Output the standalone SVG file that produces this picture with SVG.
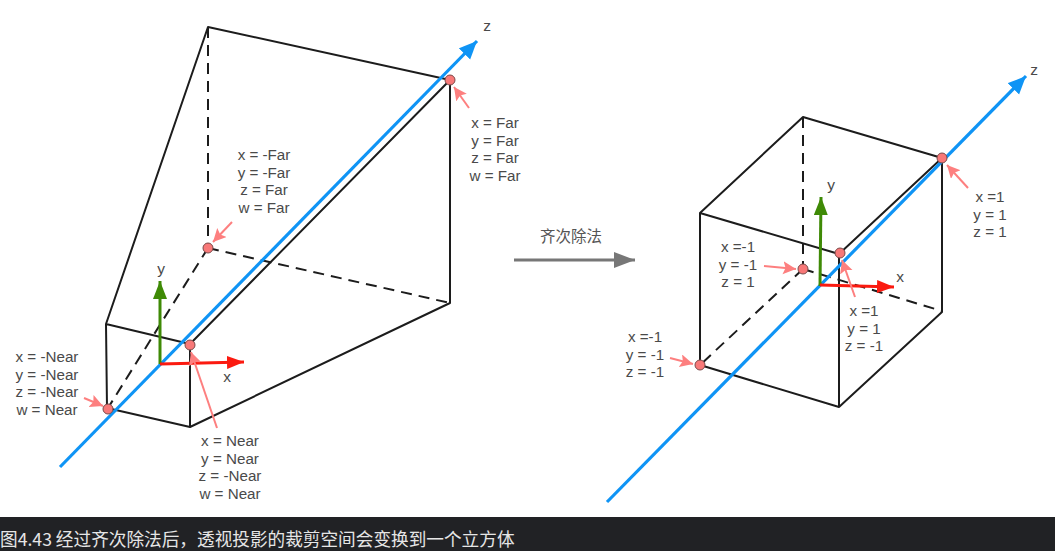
<svg xmlns="http://www.w3.org/2000/svg" width="1055" height="551" viewBox="0 0 1055 551">
<style>
.e{fill:none;stroke:#1c1c1c;stroke-width:2;stroke-linecap:round;stroke-linejoin:round}
.d{fill:none;stroke:#1c1c1c;stroke-width:2;stroke-dasharray:11 7}
.z{fill:none;stroke:#0f94f5;stroke-width:3.2}
.g{fill:none;stroke:#3f8a06;stroke-width:3}
.r{fill:none;stroke:#fb1a10;stroke-width:3}
.p{fill:none;stroke:#fd7f7f;stroke-width:2}
.n{fill:#f87878;stroke:#7a4a4a;stroke-width:1}
text{font-family:"Liberation Sans",Arial,sans-serif;font-size:15.2px;fill:#4a4a4a;text-anchor:middle}
.t{font-size:15.5px}
.c{font-family:"Noto Sans CJK SC","Liberation Sans",sans-serif;font-size:17.65px;fill:#e6e6e6;text-anchor:start}
.l{font-family:"Noto Sans CJK SC","Liberation Sans",sans-serif;font-size:15.5px;fill:#555}
</style>
<defs>
<marker id="az" markerUnits="userSpaceOnUse" markerWidth="22" markerHeight="18" refX="18" refY="8" orient="auto"><path d="M0 0L18 8L0 16z" fill="#0f94f5"/></marker>
<marker id="ag" markerUnits="userSpaceOnUse" markerWidth="22" markerHeight="18" refX="18" refY="7" orient="auto"><path d="M0 0L18 7L0 14z" fill="#3f8a06"/></marker>
<marker id="ar" markerUnits="userSpaceOnUse" markerWidth="22" markerHeight="18" refX="17" refY="6.5" orient="auto"><path d="M0 0L17 6.5L0 13z" fill="#fb1a10"/></marker>
<marker id="ap" markerUnits="userSpaceOnUse" markerWidth="16" markerHeight="16" refX="13" refY="6.5" orient="auto"><path d="M0 0L13 6.5L0 13L2.5 6.5z" fill="#fd7f7f"/></marker>
<marker id="ak" markerUnits="userSpaceOnUse" markerWidth="24" markerHeight="18" refX="21" refY="8" orient="auto"><path d="M0 0L21 8L0 16z" fill="#777"/></marker>
</defs>
<rect width="1055" height="551" fill="#fff"/>
<g id="connectors">
<path class="d" d="M208 27V248M208 248L108 408M208 248L450 303"/>
<path class="e" d="M106 324L208 27L450 80V303L190 427L107 408L106 324L190 344V427M190 344L450 80"/>
<path class="z" d="M60 467L477 41" marker-end="url(#az)"/>
<path class="g" d="M160 364V281" marker-end="url(#ag)"/>
<path class="r" d="M160 364L244 362" marker-end="url(#ar)"/>
<path class="p" d="M217 428L191 352" marker-end="url(#ap)"/>
<path class="p" d="M84 398L103 406" marker-end="url(#ap)"/>
<path class="p" d="M232 222L213 242" marker-end="url(#ap)"/>
<path class="p" d="M469 108L454 87" marker-end="url(#ap)"/>
<path class="d" d="M803 117V269M803 269L700 365M803 269L942 311"/>
<path class="e" d="M700 213L803 117L942 158V312L839 407L700 365V213L839 254V407M839 254L942 158"/>
<path class="z" d="M607 502L1026 76" marker-end="url(#az)"/>
<path class="g" d="M820 286L821 197" marker-end="url(#ag)"/>
<path class="r" d="M820 285L894 287" marker-end="url(#ar)"/>
<path class="p" d="M855 297L842 260" marker-end="url(#ap)"/>
<path class="p" d="M764 266L796 269" marker-end="url(#ap)"/>
<path class="p" d="M670 358L693 364" marker-end="url(#ap)"/>
<path class="p" d="M968 188L947 165" marker-end="url(#ap)"/>
<path d="M514 260H635" fill="none" stroke="#777" stroke-width="3" marker-end="url(#ak)"/>
</g>
<g id="node-near-bl"><circle class="n" cx="108" cy="409" r="5"/><text x="47" y="362">x = -Near</text><text x="47" y="380">y = -Near</text><text x="47" y="397">z = -Near</text><text x="47" y="415">w = Near</text></g>
<g id="node-near-tr"><circle class="n" cx="190" cy="345" r="5"/><text x="230" y="446">x = Near</text><text x="230" y="464">y = Near</text><text x="230" y="481">z = -Near</text><text x="230" y="499">w = Near</text></g>
<g id="node-far-bl"><circle class="n" cx="208" cy="248" r="5"/><text x="264" y="160">x = -Far</text><text x="264" y="178">y = -Far</text><text x="264" y="195">z = Far</text><text x="264" y="213">w = Far</text></g>
<g id="node-far-tr"><circle class="n" cx="450" cy="80" r="5"/><text x="495" y="128">x = Far</text><text x="495" y="146">y = Far</text><text x="495" y="163">z = Far</text><text x="495" y="181">w = Far</text></g>
<g id="node-cube-bl"><circle class="n" cx="700" cy="365" r="5"/><text x="645" y="342">x =-1</text><text x="645" y="360">y = -1</text><text x="645" y="377">z = -1</text></g>
<g id="node-cube-back"><circle class="n" cx="803" cy="269" r="5"/><text x="738" y="252">x =-1</text><text x="738" y="270">y = -1</text><text x="738" y="287">z = 1</text></g>
<g id="node-cube-tr"><circle class="n" cx="840" cy="253" r="5"/><text x="864" y="316">x =1</text><text x="864" y="334">y = 1</text><text x="864" y="351">z = -1</text></g>
<g id="node-cube-far"><circle class="n" cx="942" cy="158" r="5"/><text x="990" y="202">x =1</text><text x="990" y="220">y = 1</text><text x="990" y="237">z = 1</text></g>
<g id="axis-labels"><text class="t" x="487" y="31">z</text><text class="t" x="161" y="274">y</text><text class="t" x="227" y="382">x</text><text class="t" x="1034" y="75">z</text><text class="t" x="831" y="190">y</text><text class="t" x="900" y="282">x</text><text class="l" x="571" y="242">齐次除法</text></g>
<g id="caption"><rect y="517" width="1055" height="34" fill="#212225"/><text class="c" x="0" y="546">图4.43 经过齐次除法后，透视投影的裁剪空间会变换到一个立方体</text></g>
</svg>
